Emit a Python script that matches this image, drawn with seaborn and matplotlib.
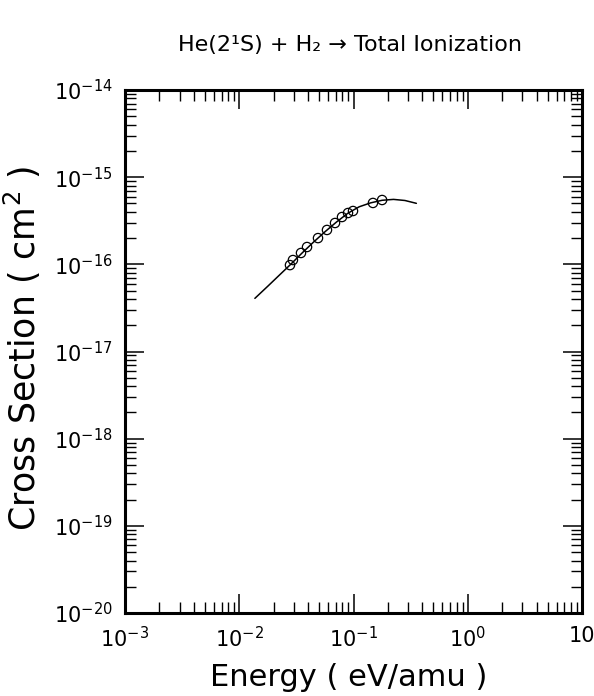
import numpy as np
import pandas as pd
import seaborn as sns
import matplotlib
matplotlib.use("Agg")
import matplotlib.pyplot as plt
from matplotlib.ticker import LogLocator, NullFormatter, FixedLocator, FixedFormatter

# fitted curve
curve_energy = [0.0137, 0.0178, 0.0224, 0.0282, 0.0355, 0.0447, 0.0562, 0.0708,
                0.0891, 0.112, 0.141, 0.178, 0.224, 0.282, 0.355]
curve_sigma = [4.07e-17, 5.62e-17, 7.50e-17, 1.00e-16, 1.35e-16, 1.80e-16, 2.36e-16,
               3.05e-16, 3.85e-16, 4.57e-16, 5.07e-16, 5.43e-16, 5.56e-16, 5.40e-16, 5.01e-16]

# measured points
data_energy = [0.0278, 0.0295, 0.0347, 0.0392, 0.0489, 0.0586, 0.0689, 0.0793,
               0.0895, 0.099, 0.148, 0.178]
data_sigma = [9.8e-17, 1.12e-16, 1.35e-16, 1.58e-16, 2.0e-16, 2.48e-16, 2.98e-16,
              3.49e-16, 3.88e-16, 4.09e-16, 5.06e-16, 5.47e-16]

x_ticks = [1e-3, 1e-2, 1e-1, 1e0, 1e1]
x_ticklabels = ["$10^{-3}$", "$10^{-2}$", "$10^{-1}$", "$10^{0}$", "10"]
y_ticks = [1e-20, 1e-19, 1e-18, 1e-17, 1e-16, 1e-15, 1e-14]
y_ticklabels = ["$10^{-20}$", "$10^{-19}$", "$10^{-18}$", "$10^{-17}$",
                "$10^{-16}$", "$10^{-15}$", "$10^{-14}$"]

sns.set_style("white")
plt.rcParams['font.family'] = ['DejaVu Sans']
plt.rcParams['mathtext.fontset'] = 'dejavusans'
plt.rcParams['text.color'] = 'black'
plt.rcParams['axes.labelcolor'] = 'black'
plt.rcParams['xtick.color'] = 'black'
plt.rcParams['ytick.color'] = 'black'

fig = plt.figure(figsize=(5.94, 6.96), dpi=100)
ax = fig.add_axes([125/594, 1 - 613/696, 457/594, 523/696])

curve = pd.DataFrame({"energy": curve_energy, "sigma": curve_sigma})
pts = pd.DataFrame({"energy": data_energy, "sigma": data_sigma})

sns.lineplot(data=curve, x="energy", y="sigma", ax=ax, color="black", linewidth=1.1)
sns.scatterplot(data=pts, x="energy", y="sigma", ax=ax, marker="o", s=45,
                facecolor="none", edgecolor="black", linewidth=0.9, zorder=3)

ax.set_xscale("log")
ax.set_yscale("log")
ax.set_xlim(1e-3, 1e1)
ax.set_ylim(1e-20, 1e-14)

ax.xaxis.set_major_locator(FixedLocator(x_ticks))
ax.xaxis.set_major_formatter(FixedFormatter(x_ticklabels))
ax.yaxis.set_major_locator(FixedLocator(y_ticks))
ax.yaxis.set_major_formatter(FixedFormatter(y_ticklabels))
ax.xaxis.set_minor_locator(LogLocator(base=10, subs=np.arange(2, 10), numticks=20))
ax.yaxis.set_minor_locator(LogLocator(base=10, subs=np.arange(2, 10), numticks=20))
ax.xaxis.set_minor_formatter(NullFormatter())
ax.yaxis.set_minor_formatter(NullFormatter())

ax.tick_params(which="both", direction="in", top=True, right=True,
               bottom=True, left=True, color="black", labelcolor="black")
ax.tick_params(which="major", length=14, width=1.1, labelsize=15, pad=9)
ax.tick_params(which="minor", length=8, width=1.0)

for s in ax.spines.values():
    s.set_linewidth(2.2)
    s.set_color("black")

ax.set_xlabel("Energy ( eV/amu )", fontsize=22, color="black")
ax.set_ylabel("Cross Section ( cm$^2$ )", fontsize=25, color="black")
ax.xaxis.set_label_coords(0.49, -0.095)
ax.yaxis.set_label_coords(-0.18, 0.505)

fig.text(350/594, 1 - 45/696, "He(2¹S) + H₂ → Total Ionization",
         ha="center", va="center", fontsize=16, color="black")

fig.savefig("out.png", dpi=100)
